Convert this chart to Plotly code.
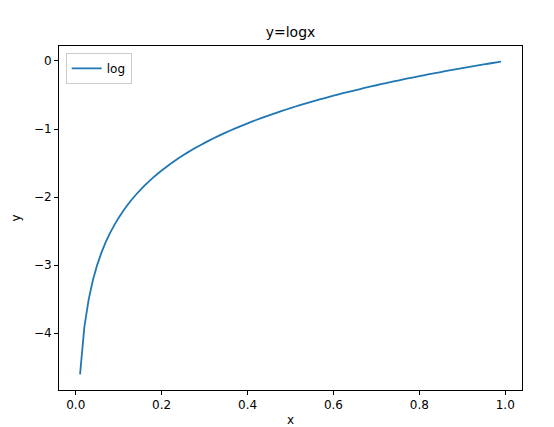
import plotly.graph_objects as go

x_vals = [0.01, 0.02, 0.03, 0.04, 0.05, 0.06, 0.07, 0.08, 0.09, 0.10,
          0.11, 0.12, 0.13, 0.14, 0.15, 0.16, 0.17, 0.18, 0.19, 0.20,
          0.21, 0.22, 0.23, 0.24, 0.25, 0.26, 0.27, 0.28, 0.29, 0.30,
          0.31, 0.32, 0.33, 0.34, 0.35, 0.36, 0.37, 0.38, 0.39, 0.40,
          0.41, 0.42, 0.43, 0.44, 0.45, 0.46, 0.47, 0.48, 0.49, 0.50,
          0.51, 0.52, 0.53, 0.54, 0.55, 0.56, 0.57, 0.58, 0.59, 0.60,
          0.61, 0.62, 0.63, 0.64, 0.65, 0.66, 0.67, 0.68, 0.69, 0.70,
          0.71, 0.72, 0.73, 0.74, 0.75, 0.76, 0.77, 0.78, 0.79, 0.80,
          0.81, 0.82, 0.83, 0.84, 0.85, 0.86, 0.87, 0.88, 0.89, 0.90,
          0.91, 0.92, 0.93, 0.94, 0.95, 0.96, 0.97, 0.98, 0.99]

y_vals = [-4.605, -3.912, -3.507, -3.219, -2.996, -2.813, -2.659, -2.526, -2.408, -2.303,
          -2.207, -2.120, -2.040, -1.966, -1.897, -1.833, -1.772, -1.715, -1.661, -1.609,
          -1.561, -1.514, -1.470, -1.427, -1.386, -1.347, -1.309, -1.273, -1.238, -1.204,
          -1.171, -1.139, -1.109, -1.079, -1.050, -1.022, -0.994, -0.968, -0.942, -0.916,
          -0.892, -0.868, -0.844, -0.821, -0.799, -0.777, -0.755, -0.734, -0.713, -0.693,
          -0.673, -0.654, -0.635, -0.616, -0.598, -0.580, -0.562, -0.545, -0.528, -0.511,
          -0.494, -0.478, -0.462, -0.446, -0.431, -0.416, -0.400, -0.386, -0.371, -0.357,
          -0.342, -0.329, -0.315, -0.301, -0.288, -0.274, -0.261, -0.248, -0.236, -0.223,
          -0.211, -0.198, -0.186, -0.174, -0.163, -0.151, -0.139, -0.128, -0.117, -0.105,
          -0.094, -0.083, -0.073, -0.062, -0.051, -0.041, -0.030, -0.020, -0.010]

x_ticks = [0.0, 0.2, 0.4, 0.6, 0.8, 1.0]
x_tick_labels = ["0.0", "0.2", "0.4", "0.6", "0.8", "1.0"]
y_ticks = [0, -1, -2, -3, -4]
y_tick_labels = ["0", "\u22121", "\u22122", "\u22123", "\u22124"]

FONT = "DejaVu Sans"

fig = go.Figure()
fig.add_trace(go.Scatter(x=x_vals, y=y_vals, mode="lines", name="log",
                         line=dict(color="#1f77b4", width=1.8, simplify=False)))

x_pad = (max(x_vals) - min(x_vals)) * 0.05
y_pad = (max(y_vals) - min(y_vals)) * 0.05

axis_common = dict(showgrid=False, zeroline=False, showline=True, mirror=True,
                   linecolor="black", linewidth=1, ticks="outside", ticklen=4,
                   tickwidth=1, tickcolor="black", automargin=False,
                   tickfont=dict(family=FONT, size=12, color="black"))

fig.update_layout(
    width=554, height=427,
    margin=dict(l=59, r=32, t=46, b=37, autoexpand=False),
    paper_bgcolor="white", plot_bgcolor="white",
    font=dict(family=FONT, color="black"),
    title=dict(text="y=logx", x=0.5, xref="paper", xanchor="center",
               y=1 - 32 / 427, yref="container", yanchor="middle",
               font=dict(family=FONT, size=14, color="black")),
    xaxis=dict(range=[min(x_vals) - x_pad, max(x_vals) + x_pad],
               tickvals=x_ticks, ticktext=x_tick_labels,
               title=dict(text="x", font=dict(family=FONT, size=12, color="black"), standoff=6),
               **axis_common),
    yaxis=dict(range=[min(y_vals) - y_pad, max(y_vals) + y_pad],
               tickvals=y_ticks, ticktext=y_tick_labels,
               title=dict(text="y", font=dict(family=FONT, size=12, color="black"), standoff=10),
               **axis_common),
    showlegend=True,
    legend=dict(x=0.0145, y=0.98, xanchor="left", yanchor="top",
                bgcolor="white", bordercolor="#cccccc", borderwidth=1,
                font=dict(family=FONT, size=12, color="black"),
                itemwidth=30),
)

fig.write_html("out.html",
               config={"displayModeBar": False},
               post_script="document.body.style.margin='0';document.body.style.overflow='hidden';")
